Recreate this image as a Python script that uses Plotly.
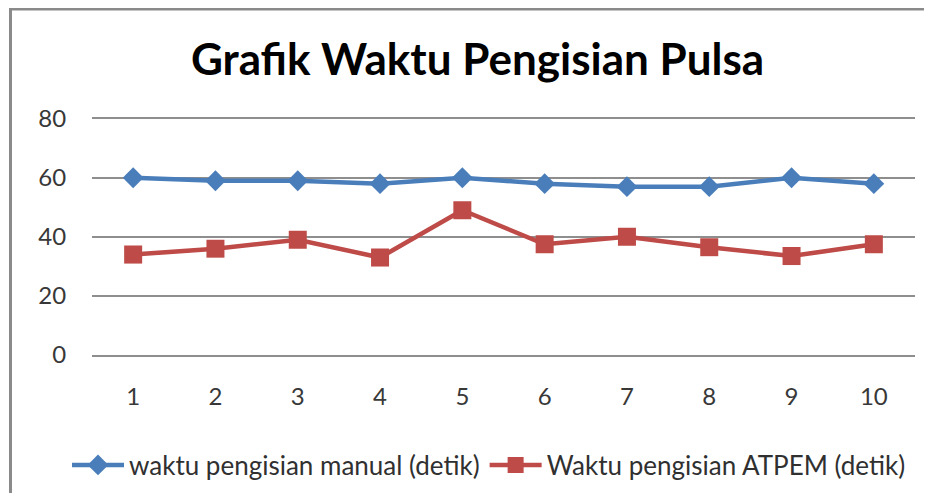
import plotly.graph_objects as go

PAGE_W, PAGE_H = 932, 501
OFF = 8  # page body margin
W, H = PAGE_W - 2 * OFF, PAGE_H - 2 * OFF  # keep page from overflowing

categories = ["1", "2", "3", "4", "5", "6", "7", "8", "9", "10"]
manual = [60, 59, 59, 58, 60, 58, 57, 57, 60, 58]
atpem = [34, 36, 39, 33, 49, 37.5, 40, 36.5, 33.5, 37.5]
y_ticks = [0, 20, 40, 60, 80]

name_manual = "waktu pengisian manual (detik)"
name_atpem = "Waktu pengisian ATPEM (detik)"
title_text = "Grafik Waktu Pengisian Pulsa"

FONT = "Lato"
BLUE = "#4A7EBB"
RED = "#BE4B48"
GRID = "#8E8E8E"


def fx(px):
    return (px - OFF) / W


def fy(py):
    return 1 - (py - OFF) / H


fig = go.Figure()
fig.add_trace(go.Scatter(
    x=categories, y=manual, name=name_manual, mode="lines+markers",
    line=dict(color=BLUE, width=4.5),
    marker=dict(symbol="diamond", size=16, color=BLUE),
))
fig.add_trace(go.Scatter(
    x=categories, y=atpem, name=name_atpem, mode="lines+markers",
    line=dict(color=RED, width=4.5),
    marker=dict(symbol="square", size=18, color=RED),
))

px_left, px_right = 92, 915
px_top, px_bottom = 118.7, 355

bx0, by0, bx1, by1 = fx(10.5), -0.05, 1.0, 1.0 - 1.0 / H
border_path = f"M {bx0},{by0} L {bx0},{by1} L {bx1},{by1}"

fig.update_layout(
    width=W, height=H,
    margin=dict(l=0, r=0, t=0, b=0, autoexpand=False),
    paper_bgcolor="white", plot_bgcolor="white",
    font=dict(family=FONT, color="#404040"),
    title=dict(text=title_text, x=fx(477.5), y=fy(60),
               xanchor="center", yanchor="middle",
               font=dict(family=FONT, size=44, color="#000000", weight="bold")),
    xaxis=dict(
        domain=[fx(px_left), fx(px_right)],
        type="category", range=[-0.5, 9.5],
        showgrid=False, zeroline=False,
        showline=True, mirror=True, linecolor=GRID, linewidth=1.5,
        ticks="outside", ticklen=19, tickcolor="rgba(0,0,0,0)",
        tickfont=dict(family=FONT, size=24, color="#383838"),
        automargin=False, fixedrange=True,
    ),
    yaxis=dict(
        domain=[fy(px_bottom), fy(px_top)],
        range=[0, 80], tickvals=y_ticks,
        showgrid=True, gridcolor=GRID, gridwidth=1.5,
        zeroline=False, showline=False,
        ticks="outside", ticklen=20, tickcolor="rgba(0,0,0,0)",
        tickfont=dict(family=FONT, size=24, color="#383838"),
        automargin=False, fixedrange=True,
    ),
    legend=dict(
        orientation="h", x=fx(489), xanchor="center",
        y=fy(465), yanchor="middle",
        font=dict(family=FONT, size=26, color="#303030"),
        itemwidth=52, traceorder="normal",
        bgcolor="rgba(0,0,0,0)",
    ),
    shapes=[dict(
        type="path", xref="paper", yref="paper",
        path=border_path, fillcolor="rgba(0,0,0,0)",
        line=dict(color="#8A8A8A", width=3),
    )],
)

fig.write_html("out.html")
